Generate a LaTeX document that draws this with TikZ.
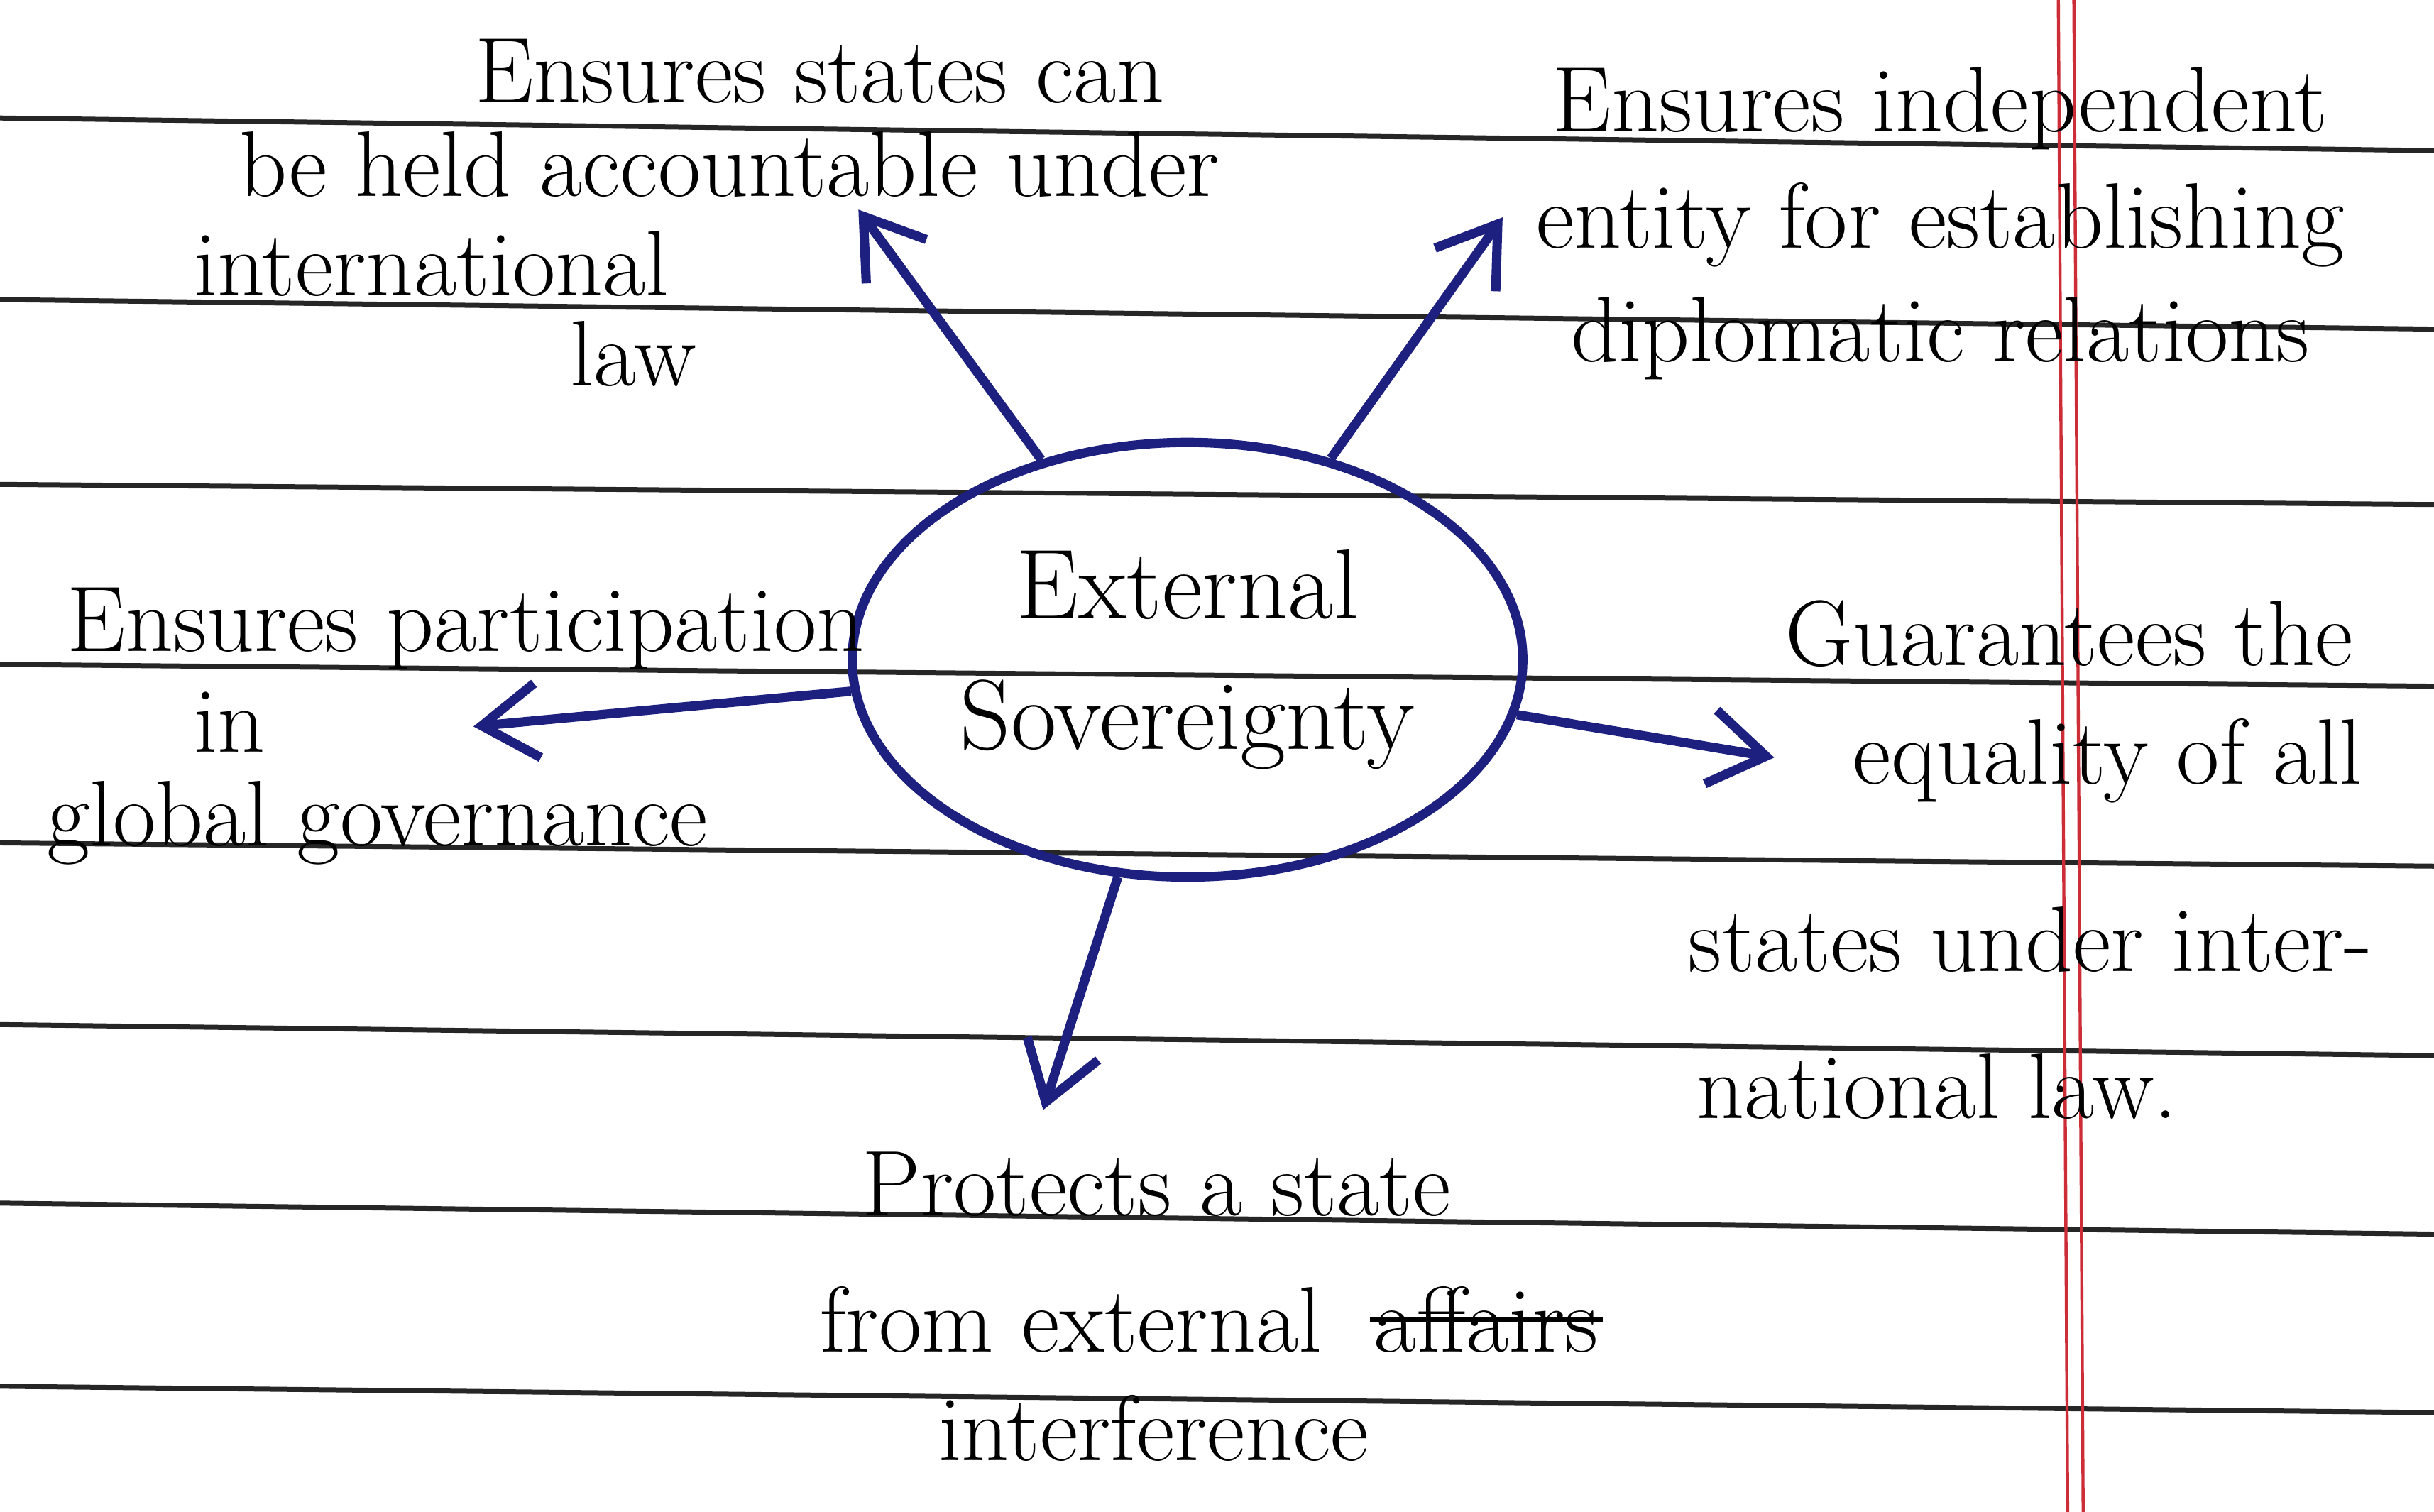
\documentclass[tikz,border=0pt]{standalone}
\usetikzlibrary{shapes.geometric,arrows.meta,positioning}
\definecolor{inkblue}{RGB}{30,32,128}
\definecolor{marginred}{RGB}{205,45,55}
\tikzset{note/.style={inner sep=0.5pt,font=\fontsize{15}{18}\selectfont},
    ruled/.style={line width=0.8pt,black!85},
    margin/.style={line width=0.5pt,marginred},
    core/.style={ellipse,draw=inkblue,line width=1.5pt,inner sep=0pt,minimum width=108pt,minimum height=70pt,
        align=center,font=\fontsize{16}{21}\selectfont},
    ray/.style={line width=1.5pt,inkblue,-{Straight Barb[length=9pt,width=12pt]}},
    strike/.style={line width=0.7pt,black}}

\begin{document}
\begin{tikzpicture}[x=0.25pt,y=0.25pt,yscale=-1,xscale=1]
\useasboundingbox (0,0) rectangle (1568,974);

%Straight Lines [ruled paper]
\foreach \ya/\yb in {76/97,193/212,312/325,428/442,543/558,660/680,775/795,893/910}
    \draw [ruled] (0,\ya) -- (1568,\yb);
%Straight Lines [margin]
\draw [margin] (1326,0) -- (1332,974);
\draw [margin] (1336,0) -- (1342,974);

%Shape: Ellipse [centre]
\draw (765,425) node [core] (core) {External\\Sovereignty};

% Text Node
\draw (528,46) node [note] (accA) {Ensures states can};
% Text Node
\draw (470,106) node [note] (accB) {be held accountable under};
% Text Node
\draw (278,170) node [note] (accC) {international};
% Text Node
\draw (408,228) node [note] (accD) {law};

% Text Node
\draw (1250,70) node [note] (dipA) {Ensures independent};
% Text Node
\draw (1250,145) node [note] (dipB) {entity for establishing};
% Text Node
\draw (1250,218) node [note] (dipC) {diplomatic relations};

% Text Node
\draw (300,405) node [note] (govA) {Ensures participation};
% Text Node
\draw (148,465) node [note] (govB) {in};
% Text Node
\draw (243,530) node [note] (govC) {global governance};

% Text Node
\draw (1333,408) node [note] (eqA) {Guarantees the};
% Text Node
\draw (1358,490) node [note] (eqB) {equality of all};
% Text Node
\draw (1308,605) node [note] (eqC) {states under inter-};
% Text Node
\draw (1248,700) node [note] (eqD) {national law.};

% Text Node
\draw (745,763) node [note] (proA) {Protects a state};
% Text Node
\draw (690,850) node [note] (proB) {from external};
% Text Node
\node [note,base right=7pt of proB] (proX) {affairs};
% Text Node
\draw (743,920) node [note] (proC) {interference};

%Straight Lines [struck word]
\draw [strike] (proX.west) -- (proX.east);

%Arrow tips
\coordinate (tipAcc) at (553,135);
\coordinate (tipDip) at (968,140);
\coordinate (tipGov) at (305,468);
\coordinate (tipEq) at (1143,488);
\coordinate (tipPro) at (672,715);

%Straight Lines [arrows]
\draw [ray] (core) -- (tipAcc);
\draw [ray] (core) -- (tipDip);
\draw [ray] (core) -- (tipGov);
\draw [ray] (core) -- (tipEq);
\draw [ray] (core) -- (tipPro);

\end{tikzpicture}
\end{document}
